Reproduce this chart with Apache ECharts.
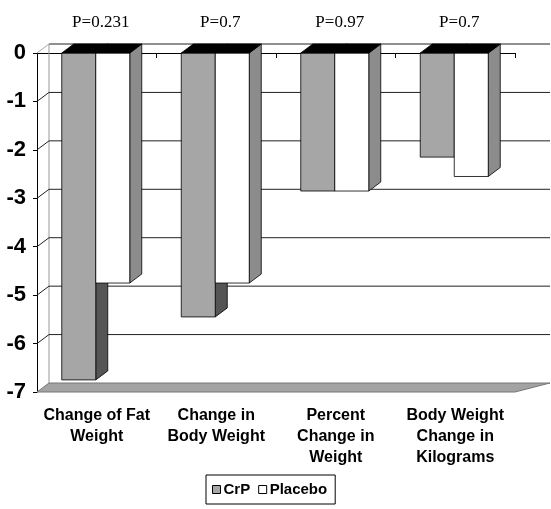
<!DOCTYPE html>
<html>
<head>
<meta charset="utf-8">
<script src="https://cdn.jsdelivr.net/npm/echarts@6/dist/echarts.min.js"></script>
<style>html,body{margin:0;padding:0;background:#fff;}#c{width:551px;height:509px;}</style>
</head>
<body>
<div id="c"></div>
<script>
const categories = ['Change of Fat\nWeight', 'Change in\nBody Weight', 'Percent\nChange in\nWeight', 'Body Weight\nChange in\nKilograms'];
const pValues = ['P=0.231', 'P=0.7', 'P=0.97', 'P=0.7'];
const crp = [-6.75, -5.45, -2.85, -2.15];
const placebo = [-4.75, -4.75, -2.85, -2.55];
const yTicks = [0, -1, -2, -3, -4, -5, -6, -7];

const DX = 12, DY = -9;

function barRender(off0, off1, frontColor, sideColor) {
  return function (params, api) {
    const c = api.coord([api.value(0), 0]);
    const b = api.coord([api.value(0), api.value(1)]);
    const x0 = c[0] + off0, x1 = c[0] + off1, yt = c[1], yb = b[1];
    return {
      type: 'group',
      children: [
        { type: 'polygon', shape: { points: [[x1, yt], [x1 + DX, yt + DY], [x1 + DX, yb + DY], [x1, yb]] },
          style: { fill: sideColor, stroke: '#000', lineWidth: 0.8 } },
        { type: 'rect', shape: { x: x0, y: yt, width: x1 - x0, height: yb - yt },
          style: { fill: frontColor, stroke: '#000', lineWidth: 0.8 } },
        { type: 'polygon', shape: { points: [[x0, yt], [x1, yt], [x1 + DX, yt + DY], [x0 + DX, yt + DY]] },
          style: { fill: '#000', stroke: '#000', lineWidth: 0.8 } }
      ]
    };
  };
}

function frameRender(params, api) {
  const cs = params.coordSys;
  const v = api.value(1);
  const y = api.coord([0, v])[1];
  const x = cs.x, r = cs.x + cs.width + 35;
  const children = [];
  if (v === yTicks[yTicks.length - 1]) {
    children.push({ type: 'polygon', shape: { points: [[x, y], [x + cs.width, y], [r, y + DY], [x + DX, y + DY]] },
      style: { fill: '#a3a3a3', stroke: '#777', lineWidth: 1 } });
  } else {
    children.push({ type: 'line', shape: { x1: x, y1: y, x2: x + DX, y2: y + DY },
      style: { stroke: v === 0 ? '#aaa' : '#222', lineWidth: 1 } });
    children.push({ type: 'line', shape: { x1: x + DX, y1: y + DY, x2: r, y2: y + DY },
      style: { stroke: '#222', lineWidth: 1 } });
    if (v === 0) {
      const yb = api.coord([0, yTicks[yTicks.length - 1]])[1];
      children.push({ type: 'line', shape: { x1: x + DX, y1: y + DY, x2: x + DX, y2: yb + DY },
        style: { stroke: '#999', lineWidth: 1 } });
    }
  }
  return { type: 'group', children: children };
}

const chart = echarts.init(document.getElementById('c'));
chart.setOption({
  backgroundColor: '#fff',
  animation: false,
  grid: { left: 37, right: 36, top: 53, bottom: 117 },
  legend: {
    data: ['CrP', 'Placebo'],
    left: 206, top: 475,
    icon: 'rect', itemWidth: 8, itemHeight: 8, itemGap: 8,
    borderColor: '#000', borderWidth: 1, borderRadius: 0,
    padding: [7, 8, 7, 6],
    itemStyle: { borderColor: '#000', borderWidth: 1 },
    textStyle: { fontFamily: 'Liberation Sans, Arial', fontWeight: 'bold', fontSize: 15, color: '#000', padding: [0, 0, 0, -2] }
  },
  xAxis: [
    {
      type: 'category', data: categories, position: 'bottom',
      axisLine: { lineStyle: { color: '#000', width: 1 } },
      axisTick: { show: true, length: 5, lineStyle: { color: '#000' } },
      axisLabel: { color: '#000', fontFamily: 'Liberation Sans, Arial', fontWeight: 'bold', fontSize: 16, lineHeight: 21, margin: 13, interval: 0 },
      splitLine: { show: false }
    },
    {
      type: 'category', data: pValues, position: 'top',
      axisLine: { show: false }, axisTick: { show: false },
      axisLabel: { color: '#000', fontFamily: 'Liberation Serif, Times New Roman', fontSize: 17, margin: 22, interval: 0, padding: [0, 0, 0, 8] }
    }
  ],
  yAxis: {
    type: 'value', min: -7, max: 0, interval: 1,
    axisLine: { show: true, lineStyle: { color: '#000', width: 1 } },
    axisTick: { show: true, length: 4, lineStyle: { color: '#000' } },
    axisLabel: { color: '#000', fontFamily: 'Liberation Sans, Arial', fontWeight: 'bold', fontSize: 22, margin: 11 },
    splitLine: { show: false }
  },
  series: [
    {
      name: 'frame', type: 'custom', renderItem: frameRender, silent: true,
      data: yTicks.map(v => [0, v]), encode: { x: 0, y: 1 }
    },
    {
      name: 'CrP', type: 'custom', renderItem: barRender(-35, -1, '#a6a6a6', '#555'),
      itemStyle: { color: '#a6a6a6' },
      data: crp.map((v, i) => [i, v]), encode: { x: 0, y: 1 }
    },
    {
      name: 'Placebo', type: 'custom', renderItem: barRender(-1, 33, '#fff', '#8c8c8c'),
      itemStyle: { color: '#fff' },
      data: placebo.map((v, i) => [i, v]), encode: { x: 0, y: 1 }
    }
  ]
});
</script>
</body>
</html>
